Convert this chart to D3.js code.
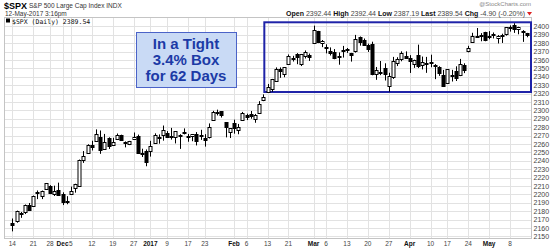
<!DOCTYPE html>
<html>
<head>
<meta charset="utf-8">
<script src="https://cdn.jsdelivr.net/npm/d3@7"></script>
<style>
  body { margin: 0; background: #fff; }
  svg { display: block; font-family: "Liberation Sans", Arial, sans-serif; }
  .tick-x { font-size: 6.5px; fill: #444; }
  .tick-x.month { font-weight: bold; fill: #111; }
  .tick-y { font-size: 7px; fill: #444; }
</style>
</head>
<body>
<div id="chart"></div>
<script>
// trading days shown on the chart (Nov 14 2016 -> May 12 2017)
let days = [
  "2016-11-14","2016-11-15","2016-11-16","2016-11-17","2016-11-18","2016-11-21","2016-11-22","2016-11-23","2016-11-25","2016-11-28","2016-11-29","2016-11-30",
  "2016-12-01","2016-12-02","2016-12-05","2016-12-06","2016-12-07","2016-12-08","2016-12-09","2016-12-12","2016-12-13","2016-12-14","2016-12-15","2016-12-16",
  "2016-12-19","2016-12-20","2016-12-21","2016-12-22","2016-12-23","2016-12-27","2016-12-28","2016-12-29","2016-12-30",
  "2017-01-03","2017-01-04","2017-01-05","2017-01-06","2017-01-09","2017-01-10","2017-01-11","2017-01-12","2017-01-13","2017-01-17","2017-01-18","2017-01-19",
  "2017-01-20","2017-01-23","2017-01-24","2017-01-25","2017-01-26","2017-01-27","2017-01-30","2017-01-31",
  "2017-02-01","2017-02-02","2017-02-03","2017-02-06","2017-02-07","2017-02-08","2017-02-09","2017-02-10","2017-02-13","2017-02-14","2017-02-15","2017-02-16",
  "2017-02-17","2017-02-21","2017-02-22","2017-02-23","2017-02-24","2017-02-27","2017-02-28",
  "2017-03-01","2017-03-02","2017-03-03","2017-03-06","2017-03-07","2017-03-08","2017-03-09","2017-03-10","2017-03-13","2017-03-14","2017-03-15","2017-03-16",
  "2017-03-17","2017-03-20","2017-03-21","2017-03-22","2017-03-23","2017-03-24","2017-03-27","2017-03-28","2017-03-29","2017-03-30","2017-03-31",
  "2017-04-03","2017-04-04","2017-04-05","2017-04-06","2017-04-07","2017-04-10","2017-04-11","2017-04-12","2017-04-13","2017-04-17","2017-04-18","2017-04-19",
  "2017-04-20","2017-04-21","2017-04-24","2017-04-25","2017-04-26","2017-04-27","2017-04-28",
  "2017-05-01","2017-05-02","2017-05-03","2017-05-04","2017-05-05","2017-05-08","2017-05-09","2017-05-10","2017-05-11","2017-05-12"
];

let opens = [
  2165.6,2168.3,2177.5,2178.6,2186.9,2186.4,2201.6,2198.6,2206.3,2210.2,2200.8,2205.0,
  2200.2,2191.1,2200.7,2207.3,2210.7,2241.1,2249.7,2258.8,2263.3,2268.4,2253.8,2266.8,
  2259.2,2266.5,2270.5,2262.9,2260.3,2266.2,2270.2,2249.5,2251.6,
  2251.6,2261.6,2268.2,2271.1,2273.6,2269.7,2268.6,2271.1,2272.7,2269.1,2269.1,2271.9,
  2270.0,2267.8,2267.9,2288.9,2298.6,2299.0,2286.0,2274.0,
  2285.6,2276.7,2288.5,2294.3,2295.9,2289.6,2296.7,2312.3,2321.7,2326.1,2335.6,2349.6,
  2343.0,2354.9,2361.1,2367.5,2355.7,2365.2,2366.1,
  2380.1,2394.8,2380.9,2375.2,2370.7,2369.8,2363.5,2372.5,2371.6,2368.6,2370.3,2387.7,
  2383.7,2378.2,2379.3,2343.0,2346.0,2350.4,2329.1,2339.8,2356.5,2361.3,2364.8,
  2362.3,2354.8,2366.6,2353.8,2356.6,2357.2,2353.9,2352.2,2342.0,2332.6,2342.5,2346.8,
  2342.7,2354.7,2370.3,2381.5,2389.0,2389.7,2393.7,
  2388.5,2391.1,2386.5,2389.8,2391.4,2399.9,2401.6,2396.8,2394.8,2392.4
];

let highs = [
  2171.4,2180.8,2179.2,2188.1,2189.9,2198.7,2204.8,2204.7,2213.4,2211.1,2210.5,2214.1,
  2202.6,2198.0,2209.4,2212.8,2241.6,2251.7,2259.8,2264.0,2277.5,2276.2,2272.1,2268.1,
  2267.5,2272.6,2271.2,2263.2,2263.8,2273.8,2271.3,2254.5,2253.6,
  2263.9,2272.8,2271.5,2282.1,2275.5,2279.3,2275.3,2271.8,2278.7,2272.1,2272.0,2274.3,
  2277.0,2271.8,2284.6,2299.6,2301.0,2299.0,2286.0,2279.1,
  2289.1,2284.0,2298.3,2296.2,2299.4,2295.9,2311.1,2319.2,2331.6,2337.6,2351.3,2351.3,
  2351.2,2366.7,2365.1,2368.3,2367.3,2371.5,2367.8,
  2401.0,2394.8,2383.9,2378.8,2375.1,2373.1,2369.1,2376.9,2374.4,2368.6,2390.0,2388.1,
  2385.7,2379.6,2381.9,2351.8,2358.9,2356.2,2344.9,2363.8,2363.4,2370.4,2370.4,
  2365.9,2360.5,2378.4,2364.2,2363.8,2366.4,2355.2,2352.7,2348.3,2349.1,2348.4,2352.6,
  2361.4,2356.2,2377.0,2392.5,2398.2,2392.1,2393.7,
  2394.5,2392.9,2389.8,2391.4,2399.3,2401.4,2403.9,2399.7,2395.7,2392.4
];

let lows = [
  2156.1,2166.4,2172.2,2176.7,2180.4,2186.4,2194.5,2194.5,2206.3,2200.4,2198.2,2198.8,
  2187.4,2188.4,2200.0,2202.2,2208.9,2237.6,2249.2,2252.4,2263.3,2248.4,2253.8,2254.2,
  2259.2,2266.1,2265.2,2256.1,2258.8,2266.2,2249.1,2244.6,2233.6,
  2245.1,2261.6,2260.5,2264.1,2268.9,2265.3,2260.8,2254.3,2271.5,2262.8,2263.4,2258.4,
  2265.0,2257.0,2266.7,2288.9,2294.1,2291.6,2268.0,2267.2,
  2272.4,2271.7,2287.9,2288.6,2290.2,2285.4,2296.6,2311.1,2321.4,2322.2,2334.8,2338.9,
  2339.6,2354.9,2358.3,2355.1,2352.9,2361.9,2359.0,
  2380.1,2380.2,2375.4,2368.0,2365.5,2361.0,2354.5,2363.0,2368.5,2358.2,2368.9,2377.2,
  2377.6,2369.7,2341.9,2336.5,2342.1,2335.7,2322.3,2337.6,2352.9,2358.6,2362.6,
  2344.7,2350.7,2350.5,2348.9,2344.8,2351.5,2337.3,2341.2,2329.0,2332.5,2334.5,2335.1,
  2340.9,2344.5,2369.2,2381.2,2386.8,2382.4,2382.4,
  2384.8,2385.8,2379.8,2380.4,2389.1,2393.9,2392.4,2390.7,2381.7,2387.2
];

let closes = [
  2164.2,2180.4,2176.9,2187.1,2181.9,2198.2,2202.9,2204.7,2213.4,2201.7,2204.7,2198.8,
  2191.1,2192.0,2204.7,2212.2,2241.4,2246.2,2259.5,2257.0,2271.7,2253.3,2262.0,2258.1,
  2262.5,2270.8,2265.2,2261.0,2263.8,2268.9,2249.9,2249.3,2238.8,
  2257.8,2270.8,2269.0,2277.0,2268.9,2268.9,2275.3,2270.4,2274.6,2267.9,2271.9,2263.7,
  2271.3,2265.2,2280.1,2298.4,2296.7,2294.7,2280.9,2278.9,
  2279.6,2280.9,2297.4,2292.6,2293.1,2294.7,2307.9,2316.1,2328.3,2337.6,2349.3,2347.2,
  2351.2,2365.4,2362.8,2363.8,2367.3,2369.8,2363.6,
  2396.0,2381.9,2383.1,2375.3,2368.4,2363.0,2364.9,2372.6,2373.5,2365.5,2385.3,2381.4,
  2378.3,2373.5,2344.0,2348.5,2346.0,2344.0,2341.6,2358.6,2361.1,2368.1,2362.7,
  2358.8,2360.2,2353.0,2357.5,2355.5,2357.2,2353.8,2344.9,2329.0,2349.0,2342.2,2338.2,
  2355.8,2348.7,2374.2,2388.6,2387.5,2388.8,2384.2,
  2388.3,2391.2,2388.1,2389.5,2399.3,2399.4,2396.9,2399.6,2394.4,2389.5
];

// x axis labels
let tickDays  = ["2016-11-14","2016-11-21","2016-11-28","2016-12-01","2016-12-05","2016-12-12","2016-12-19","2016-12-27","2017-01-03","2017-01-09","2017-01-17","2017-01-23","2017-02-01","2017-02-06","2017-02-13","2017-02-21","2017-03-01","2017-03-06","2017-03-13","2017-03-20","2017-03-27","2017-04-03","2017-04-10","2017-04-17","2017-04-24","2017-05-01","2017-05-08"];
let tickTexts = ["14","21","28","Dec","5","12","19","27","2017","9","17","23","Feb","6","13","21","Mar","6","13","20","27","Apr","10","17","24","May","8"];
let yTicks = d3.range(2150, 2401, 10);

// the "tight box" annotation
let boxFrom = "2017-02-10";
let boxHigh = 2405;
let boxLow = 2322;

const width = 550, height = 248;
const pLeft = 4, pRight = 531, pTop = 17, pBottom = 238;

const svg = d3.select("#chart").append("svg")
  .attr("width", width)
  .attr("height", height);

const x = d3.scaleLinear().domain([-2, 124]).range([pLeft, pRight]);
const y = d3.scaleLinear().domain([2148.2, 2411.3]).range([pBottom, pTop]);
const px = v => Math.round(v) + 0.5;

// grid
const grid = svg.append("g");
grid.selectAll(".hg").data(yTicks).join("line")
  .attr("x1", pLeft).attr("x2", pRight)
  .attr("y1", d => px(y(d))).attr("y2", d => px(y(d)))
  .attr("stroke", "#e2e2e2");
grid.selectAll(".vg").data(tickDays).join("line")
  .attr("x1", d => px(x(days.indexOf(d)))).attr("x2", d => px(x(days.indexOf(d))))
  .attr("y1", pTop).attr("y2", pBottom)
  .attr("stroke", "#e2e2e2");

// frame
svg.append("rect")
  .attr("x", pLeft + 0.5).attr("y", pTop + 0.5)
  .attr("width", pRight - pLeft).attr("height", pBottom - pTop)
  .attr("fill", "none").attr("stroke", "#c4c4c4");

// y labels
svg.append("g").selectAll("text").data(yTicks).join("text")
  .attr("class", "tick-y")
  .attr("x", pRight + 2.5)
  .attr("y", d => y(d) + 2.5)
  .text(d => d);

// x labels
svg.append("g").selectAll("text").data(tickDays).join("text")
  .attr("class", (d, i) => isNaN(+tickTexts[i]) || tickTexts[i] == "2017" ? "tick-x month" : "tick-x")
  .attr("x", d => x(days.indexOf(d)))
  .attr("y", 245.5)
  .attr("text-anchor", "middle")
  .text((d, i) => tickTexts[i]);

// blue box
svg.append("rect")
  .attr("x", x(days.indexOf(boxFrom)) + 1)
  .attr("y", y(boxHigh))
  .attr("width", pRight - x(days.indexOf(boxFrom)) - 1)
  .attr("height", y(boxLow) - y(boxHigh))
  .attr("fill", "none")
  .attr("stroke", "#1f23a8")
  .attr("stroke-width", 2);

// candles
const candles = svg.append("g");
const bw = 3;
days.forEach((d, i) => {
  let cx = px(x(i));
  let up = closes[i] >= opens[i];
  candles.append("line")
    .attr("x1", cx).attr("x2", cx)
    .attr("y1", y(highs[i])).attr("y2", y(lows[i]))
    .attr("stroke", "#000");
  let yt = y(Math.max(opens[i], closes[i]));
  let yb = y(Math.min(opens[i], closes[i]));
  candles.append("rect")
    .attr("x", cx - bw / 2)
    .attr("y", Math.round(yt) + 0.5)
    .attr("width", bw)
    .attr("height", Math.max(1, Math.round(yb) - Math.round(yt)))
    .attr("fill", up ? "#fff" : "#000")
    .attr("stroke", "#000");
});

// annotation
svg.append("rect")
  .attr("x", 136.5).attr("y", 32.5)
  .attr("width", 100).attr("height", 55)
  .attr("fill", "#c9daf5").attr("stroke", "#4b63c8");
const note = ["In a Tight", "3.4% Box", "for 62 Days"];
svg.append("g").selectAll("text").data(note).join("text")
  .attr("x", 186).attr("y", (d, i) => 49 + i * 16)
  .attr("text-anchor", "middle")
  .attr("font-size", "15px").attr("font-weight", "bold")
  .attr("fill", "#1c3aa6")
  .text(d => d);

// header
svg.append("text").attr("x", 4).attr("y", 8.5)
  .attr("font-size", "9px").attr("font-weight", "bold").text("$SPX");
svg.append("text").attr("x", 29).attr("y", 8)
  .attr("font-size", "6.5px").attr("fill", "#333").text("S&P 500 Large Cap Index  INDX");
svg.append("text").attr("x", 5).attr("y", 16)
  .attr("font-size", "6.5px").attr("fill", "#333").text("12-May-2017 3:16pm");
svg.append("rect").attr("x", 6).attr("y", 18.5).attr("width", 4).attr("height", 4).attr("fill", "#000");
svg.append("text").attr("x", 12).attr("y", 24)
  .attr("font-family", "DejaVu Sans Mono, monospace")
  .attr("font-size", "6.5px").attr("fill", "#111").text("$SPX (Daily) 2389.54");
svg.append("text").attr("x", 531).attr("y", 5.5)
  .attr("text-anchor", "end")
  .attr("font-size", "6px").attr("fill", "#888").text("@StockCharts.com");

const quote = svg.append("text").attr("x", 525).attr("y", 15.5)
  .attr("text-anchor", "end").attr("font-size", "7px").attr("fill", "#333");
[["Open ", true], ["2392.44 ", false], ["High ", true], ["2392.44 ", false], ["Low ", true], ["2387.19 ", false],
 ["Last ", true], ["2389.54 ", false], ["Chg ", true], ["-4.90 (-0.20%)", false]].forEach(p => {
  quote.append("tspan").attr("font-weight", p[1] ? "bold" : "normal").attr("fill", p[1] ? "#111" : "#444").text(p[0]);
});
svg.append("path").attr("d", "M527,12 L532,12 L529.5,15.5 Z").attr("fill", "#d22");
</script>
</body>
</html>
